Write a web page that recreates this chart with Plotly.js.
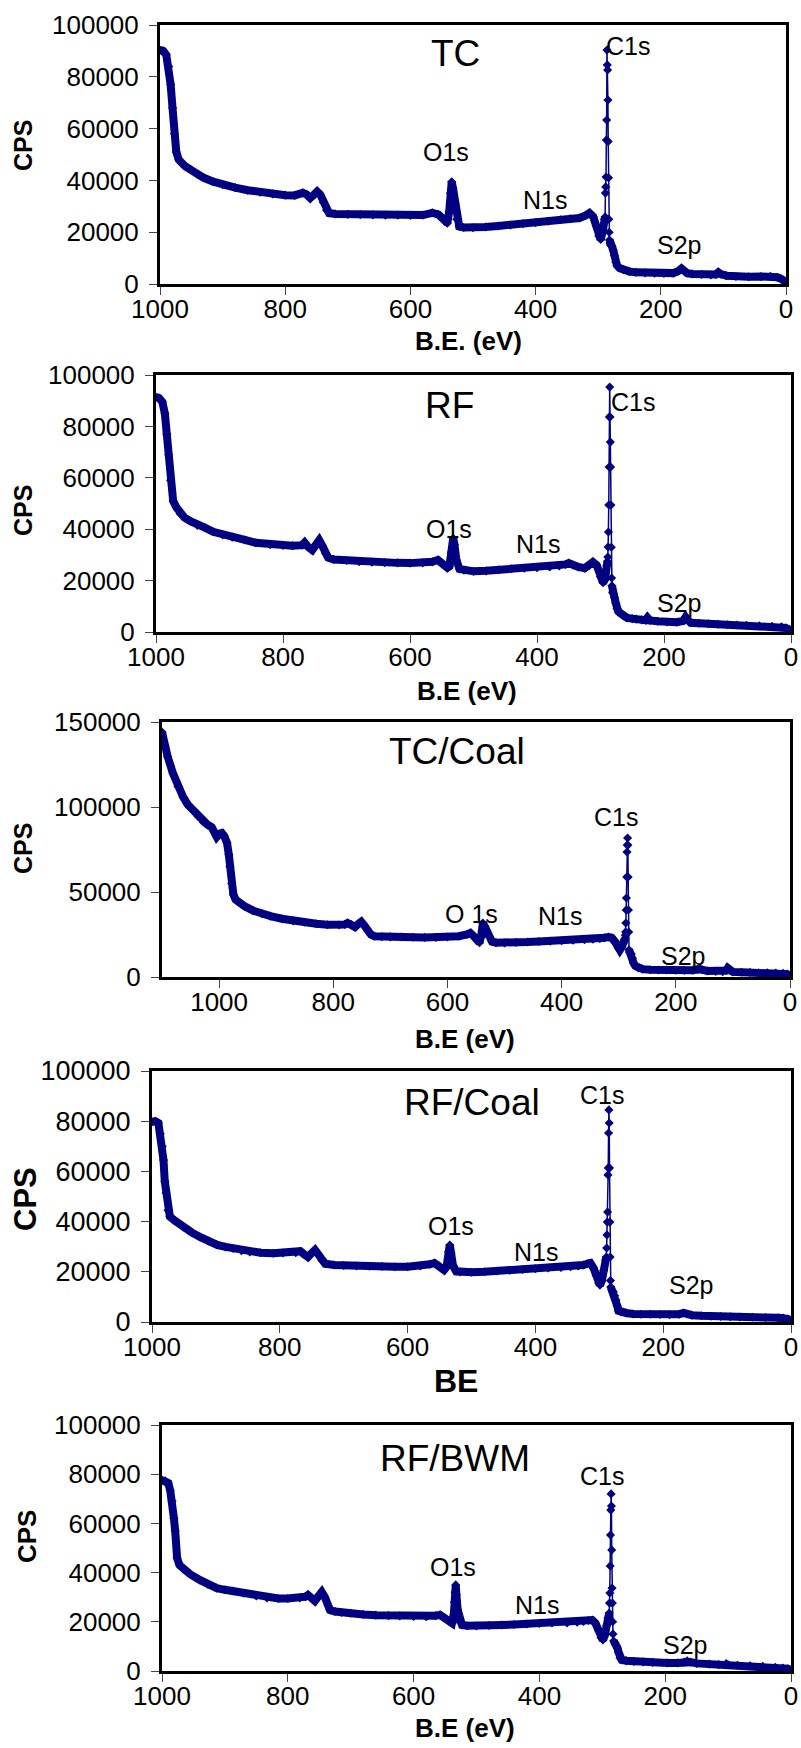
<!DOCTYPE html>
<html>
<head>
<meta charset="utf-8">
<script src="https://cdn.plot.ly/plotly-3.0.1.min.js"></script>
<style>
  html, body { margin: 0; padding: 0; background: #fff; }
  #chart { width: 801px; height: 1748px; }
</style>
</head>
<body>
<div id="chart"></div>
<script>
// XPS survey spectra, binding energy (eV) vs counts per second

const tcBE  = [1000, 995, 990, 986, 983, 980, 977, 974, 970, 966, 960, 950, 940, 930, 915, 900, 880, 860, 840, 820, 800, 785, 772, 766, 760, 754, 749, 744, 739, 734, 730, 720, 700, 680, 660, 640, 620, 600, 580, 565, 555, 545, 541, 538, 536, 534, 532, 529, 526, 522, 515, 500, 480, 460, 440, 420, 400, 380, 360, 345, 330, 320, 314, 308, 303, 299, 296, 293, 290, 289, 288.5, 288, 287.5, 287, 286.5, 286, 285.5, 285, 284.5, 284, 283.5, 283, 282.5, 282, 281, 280, 278, 276, 274, 272, 270, 266, 260, 250, 240, 225, 210, 195, 180, 172, 167, 163, 158, 150, 135, 120, 112, 108, 104, 95, 80, 60, 40, 25, 14, 8, 4, 0];
const tcCPS = [90300, 90000, 88500, 84000, 77000, 68000, 58000, 51000, 48000, 46800, 45500, 44000, 42300, 41000, 39500, 38300, 37200, 36200, 35400, 34800, 34300, 34200, 35200, 34600, 33200, 34500, 35700, 34500, 31500, 28500, 27400, 27000, 26900, 26800, 26700, 26600, 26600, 26500, 26600, 27500, 26800, 24500, 23500, 28000, 35000, 39500, 37000, 31000, 25000, 22200, 21800, 21700, 22000, 22400, 22800, 23300, 23700, 24200, 24800, 25200, 25500, 26500, 27400, 26000, 22500, 18500, 17200, 20000, 25000, 25900, 35100, 37500, 41300, 55600, 63300, 90300, 84600, 82600, 71000, 55000, 41000, 25000, 20000, 17000, 15500, 15000, 14500, 13000, 11000, 8500, 7200, 6200, 5500, 4800, 4500, 4300, 4200, 4100, 4200, 5000, 6000, 5200, 4200, 3900, 3700, 3500, 3700, 4500, 3800, 3200, 2900, 2800, 2900, 3000, 2600, 2000, 1400, 800];

const rfBE  = [1000, 995, 990, 986, 983, 980, 977, 973, 968, 962, 955, 945, 935, 923, 910, 895, 880, 860, 843, 820, 800, 785, 770, 766, 760, 754, 748, 743, 738, 733, 729, 720, 700, 680, 660, 640, 620, 600, 580, 565, 556, 548, 541, 538, 535, 532, 530, 527, 522, 515, 500, 480, 460, 440, 420, 400, 380, 365, 355, 350, 343, 335, 325, 318, 312, 306, 300, 296, 293, 290, 289, 288.5, 288, 287.5, 287, 286.5, 286, 285.5, 285, 284.5, 284, 283.5, 283, 282.5, 282, 281, 280, 278, 276, 274, 272, 269, 265, 258, 250, 244, 235, 229, 226, 222, 210, 195, 180, 170, 166, 162, 158, 145, 130, 115, 100, 85, 70, 50, 30, 15, 8, 3, 0];
const rfCPS = [91400, 91000, 89500, 85000, 77000, 69000, 59000, 51000, 48500, 46000, 44500, 43000, 41500, 40600, 39000, 37800, 36900, 35800, 34700, 34000, 33700, 33600, 33800, 34800, 33000, 31900, 34000, 35700, 33500, 30500, 29000, 28200, 27800, 27400, 27200, 27000, 26900, 26800, 26900, 27300, 28000, 26500, 25000, 25500, 31000, 36500, 34000, 28000, 24500, 24000, 23600, 23800, 24200, 24600, 24800, 25000, 25300, 25700, 26300, 26800, 26000, 25300, 24800, 25800, 27200, 26000, 21500, 19200, 20500, 26000, 27500, 29200, 33100, 38900, 49400, 64200, 83700, 95300, 83700, 73900, 64200, 49400, 33000, 21000, 18000, 15500, 15000, 13500, 11300, 9000, 8000, 7400, 6500, 5500, 5200, 5000, 4700, 4600, 5600, 4500, 4200, 3900, 3800, 4300, 5800, 4600, 3600, 3400, 3200, 3000, 2800, 2700, 2600, 2400, 2200, 2000, 1600, 1000, 500];

const tccBE  = [1100, 1095, 1090, 1081, 1072, 1063, 1055, 1046, 1037, 1028, 1020, 1013, 1008, 1004, 999, 995, 991, 986, 983, 981, 978, 975, 971, 965, 955, 940, 925, 910, 890, 870, 850, 830, 810, 790, 780, 775, 768, 762, 757, 751, 746, 740, 734, 728, 715, 700, 680, 660, 640, 620, 600, 580, 566, 560, 554, 548, 544, 541, 538, 535, 532, 528, 522, 515, 500, 480, 460, 440, 420, 400, 380, 360, 345, 333, 325, 318, 312, 306, 301, 298, 295, 292, 290, 289, 288.5, 288, 287.5, 287, 286.5, 286, 285.5, 285, 284.5, 284, 283.5, 283, 282.5, 282, 281, 280, 278, 276, 274, 271, 266, 258, 245, 230, 216, 200, 185, 170, 162, 158, 154, 145, 130, 118, 112, 109, 106, 100, 85, 70, 55, 40, 25, 12, 5, 0];
const tccCPS = [144100, 136000, 129500, 120000, 112000, 105900, 101500, 98200, 94500, 91200, 89500, 88200, 85500, 82400, 84300, 84700, 83000, 78800, 72000, 65000, 55000, 48500, 45500, 43800, 41500, 39000, 37200, 35800, 34300, 33000, 32200, 31300, 30700, 30600, 30900, 31800, 30800, 29400, 31000, 32500, 30500, 27500, 25000, 24000, 23700, 23600, 23500, 23400, 23300, 23300, 23500, 24000, 25000, 25900, 24000, 21500, 20200, 24000, 31800, 30000, 27500, 24000, 20800, 20200, 20000, 20300, 20600, 20900, 21100, 21300, 21600, 21900, 22200, 22600, 23100, 23500, 23000, 20500, 17000, 15900, 17500, 20000, 21800, 22500, 24500, 26500, 31800, 39400, 46500, 58800, 73500, 77600, 81800, 77600, 58800, 39400, 26500, 16000, 14500, 14100, 13500, 11000, 8200, 6500, 5300, 4600, 4300, 4100, 4100, 4000, 3900, 4000, 4500, 5000, 4300, 3600, 3300, 3100, 3800, 5300, 4000, 3000, 2800, 2700, 2500, 2400, 2300, 2200, 1700, 500];

const rfcBE  = [1000, 995, 990, 987, 984, 982, 980, 978, 975, 972, 965, 951, 938, 925, 912, 898, 885, 873, 860, 847, 830, 810, 795, 775, 768, 762, 756, 750, 745, 740, 734, 729, 715, 700, 680, 660, 640, 620, 600, 580, 565, 558, 550, 543, 539, 536, 534, 532, 529, 524, 518, 500, 480, 460, 440, 420, 400, 380, 360, 345, 333, 325, 318, 314, 309, 305, 301, 299, 296, 293, 290, 289, 288.5, 288, 287.5, 287, 286.5, 286, 285.5, 285, 284.5, 284, 283.5, 283, 282.5, 282, 280, 278, 276, 274, 272, 270, 266, 258, 247, 235, 220, 205, 190, 175, 168, 163, 155, 140, 125, 110, 95, 80, 60, 40, 20, 12, 5, 0];
const rfcCPS = [79700, 80000, 79300, 75000, 70000, 64500, 56000, 51400, 44500, 42000, 40500, 37800, 35700, 33900, 32300, 30700, 29900, 29300, 28400, 27900, 27600, 27400, 27500, 27600, 28200, 27000, 25900, 27500, 28700, 27000, 24500, 23200, 22700, 22500, 22300, 22200, 22100, 22000, 22000, 22300, 23000, 23500, 22300, 20700, 22000, 28000, 30700, 27500, 22500, 20200, 19900, 19800, 20000, 20300, 20600, 20900, 21200, 21500, 21700, 22000, 22300, 22700, 23300, 23500, 21500, 18500, 15500, 14700, 16500, 20500, 24700, 25900, 29500, 34700, 39800, 43800, 58600, 61400, 75300, 84500, 79300, 61400, 39800, 25900, 16500, 13900, 12700, 12000, 10500, 8800, 6500, 4500, 4000, 3600, 3200, 3100, 3100, 3000, 2900, 3100, 3600, 3200, 2700, 2500, 2300, 2200, 2100, 2000, 1900, 1800, 1700, 1600, 1200, 500];

const rfbBE  = [1000, 995, 990, 987, 984, 981, 979, 976, 972, 966, 955, 940, 927, 913, 900, 887, 870, 850, 833, 815, 800, 781, 772, 768, 762, 757, 751, 746, 741, 736, 733, 725, 715, 700, 680, 660, 640, 622, 600, 580, 565, 558, 550, 544, 539, 536, 535, 534, 533, 532, 530, 527, 523, 515, 500, 480, 460, 440, 420, 400, 380, 356, 340, 330, 322, 316, 311, 306, 302, 299, 296, 293, 291, 289, 288.5, 288, 287.5, 287, 286.5, 286, 285.5, 285, 284.5, 284, 283.5, 283, 282, 280, 278, 276, 274, 272, 269, 262, 250, 235, 220, 197, 180, 170, 165, 160, 150, 130, 115, 103, 100, 85, 65, 45, 25, 13, 5, 0];
const rfbCPS = [77600, 77300, 76400, 73500, 69100, 62000, 56900, 45900, 43000, 41400, 39300, 37000, 35200, 33700, 33000, 32500, 31600, 30500, 29700, 29500, 29500, 29700, 30200, 30900, 29600, 28500, 30500, 32100, 30000, 26500, 24800, 24200, 23800, 23500, 23000, 22700, 22500, 22400, 22200, 22100, 22500, 22800, 21500, 20200, 19500, 23000, 28000, 32000, 35000, 31000, 25000, 20000, 18700, 18400, 18300, 18500, 18700, 18900, 19100, 19300, 19500, 19500, 19800, 20100, 20500, 20700, 19500, 16500, 13500, 12600, 14500, 18500, 21500, 23600, 27600, 31700, 42700, 55300, 65400, 72000, 67100, 49200, 33700, 27600, 20000, 15000, 12200, 11500, 10500, 9300, 7500, 5300, 4500, 4200, 3900, 3700, 3500, 3300, 3300, 3600, 4100, 3600, 3100, 2800, 2600, 3000, 2500, 2300, 2100, 1900, 1500, 1200, 900, 400];

// spectra, panel titles and peak names
const spectra = [
  { be: tcBE,  cps: tcCPS,  name: 'TC' },
  { be: rfBE,  cps: rfCPS,  name: 'RF' },
  { be: tccBE, cps: tccCPS, name: 'TC/Coal' },
  { be: rfcBE, cps: rfcCPS, name: 'RF/Coal' },
  { be: rfbBE, cps: rfbCPS, name: 'RF/BWM' }
];
const xTitles = ['B.E. (eV)', 'B.E (eV)', 'B.E (eV)', 'BE', 'B.E (eV)'];
const peakNames = [
  ['C1s', 'O1s', 'N1s', 'S2p'],
  ['C1s', 'O1s', 'N1s', 'S2p'],
  ['C1s', 'O 1s', 'N1s', 'S2p'],
  ['C1s', 'O1s', 'N1s', 'S2p'],
  ['C1s', 'O1s', 'N1s', 'S2p']
];
const xMax = [1000, 1000, 1100, 1000, 1000];
const yMax = [100000, 100000, 150000, 100000, 100000];
const yStep = [20000, 20000, 50000, 20000, 20000];

// ---- layout (pixels on the 801 x 1748 page) ----
const W = 801, H = 1748;
const NAVY = '#000080';
const FONT = 'Arial, "Liberation Sans", sans-serif';
const SPIKE_LO = 282.2, SPIKE_HI = 288.8;  // C1s spike drawn as a thin line

const boxes = [            // [left, right, top, bottom]
  [160, 786, 25, 284],
  [156, 791, 375, 632],
  [162, 790, 722, 977],
  [152, 791, 1071, 1322],
  [162, 791, 1425, 1671]
];
const titlePos = [[455, 53], [449, 405], [457, 752], [472, 1102], [455, 1458]];
const peakPos = [
  [[628, 46], [446, 152], [545, 200], [679, 245]],
  [[633, 402], [449, 529], [538, 544], [679, 603]],
  [[616, 817], [471, 914], [560, 916], [683, 956]],
  [[602, 1095], [451, 1226], [536, 1252], [691, 1285]],
  [[602, 1476], [453, 1567], [537, 1605], [685, 1645]]
];
const cpsPos = [[23, 146, 25], [23, 511, 25], [23, 849, 25], [25, 1199, 31], [27, 1537, 26]];
const xTitlePos = [[468, 341, 26], [467, 691, 26], [465, 1039, 26], [456, 1381, 32], [465, 1728, 26]];
const yTickSize = [26, 26, 26, 27, 26];

const px = x => x / W;
const py = y => 1 - y / H;

const traces = [];
const layout = {
  width: W,
  height: H,
  margin: { l: 0, r: 0, t: 0, b: 0 },
  paper_bgcolor: '#fff',
  plot_bgcolor: '#fff',
  showlegend: false,
  font: { family: FONT, color: '#000' },
  annotations: []
};

spectra.forEach((s, i) => {
  const n = i + 1;
  const xa = 'x' + (n === 1 ? '' : n);
  const ya = 'y' + (n === 1 ? '' : n);
  const [l, r, t, b] = boxes[i];

  // thick band for the whole spectrum except the narrow C1s spike
  const band = s.cps.map((v, k) => (s.be[k] > SPIKE_LO && s.be[k] < SPIKE_HI) ? null : v);
  traces.push({
    type: 'scatter', mode: 'lines', x: s.be, y: band,
    xaxis: xa, yaxis: ya, connectgaps: false,
    line: { color: NAVY, width: 8 }, hoverinfo: 'skip'
  });
  traces.push({
    type: 'scatter', mode: 'lines+markers', x: s.be, y: s.cps,
    xaxis: xa, yaxis: ya,
    line: { color: NAVY, width: 1.5 },
    marker: { symbol: 'diamond', size: 7, color: NAVY },
    name: s.name
  });

  const axisCommon = {
    showline: true, linecolor: '#000', linewidth: 3, mirror: true,
    ticks: 'outside', ticklen: 8, tickwidth: 1, tickcolor: '#444',
    showgrid: false, zeroline: false, fixedrange: true
  };
  layout['xaxis' + (n === 1 ? '' : n)] = Object.assign({}, axisCommon, {
    domain: [px(l), px(r)], anchor: ya,
    range: [xMax[i], 0],
    tickmode: 'linear', tick0: 0, dtick: 200,
    tickfont: { size: 26, family: FONT, color: '#000' },
    ticklabelstandoff: -8
  });
  layout['yaxis' + (n === 1 ? '' : n)] = Object.assign({}, axisCommon, {
    domain: [py(b), py(t)], anchor: xa,
    range: [0, yMax[i]],
    tickmode: 'linear', tick0: 0, dtick: yStep[i],
    tickformat: 'd',
    tickfont: { size: yTickSize[i], family: FONT, color: '#000' },
    ticklabelstandoff: 5
  });

  layout.annotations.push({
    xref: 'paper', yref: 'paper', x: px(titlePos[i][0]), y: py(titlePos[i][1]),
    text: s.name, showarrow: false, xanchor: 'center', yanchor: 'middle',
    font: { size: 37, family: FONT, color: '#000' }
  });
  peakNames[i].forEach((p, k) => {
    layout.annotations.push({
      xref: 'paper', yref: 'paper', x: px(peakPos[i][k][0]), y: py(peakPos[i][k][1]),
      text: p, showarrow: false, xanchor: 'center', yanchor: 'middle',
      font: { size: 25, family: FONT, color: '#000' }
    });
  });
  layout.annotations.push({
    xref: 'paper', yref: 'paper', x: px(cpsPos[i][0]), y: py(cpsPos[i][1]),
    text: '<b>CPS</b>', textangle: -90, showarrow: false,
    xanchor: 'center', yanchor: 'middle',
    font: { size: cpsPos[i][2], family: FONT, color: '#000' }
  });
  layout.annotations.push({
    xref: 'paper', yref: 'paper', x: px(xTitlePos[i][0]), y: py(xTitlePos[i][1]),
    text: '<b>' + xTitles[i] + '</b>', showarrow: false,
    xanchor: 'center', yanchor: 'middle',
    font: { size: xTitlePos[i][2], family: FONT, color: '#000' }
  });
});

Plotly.newPlot('chart', traces, layout, { displayModeBar: false, staticPlot: true });
</script>
</body>
</html>
